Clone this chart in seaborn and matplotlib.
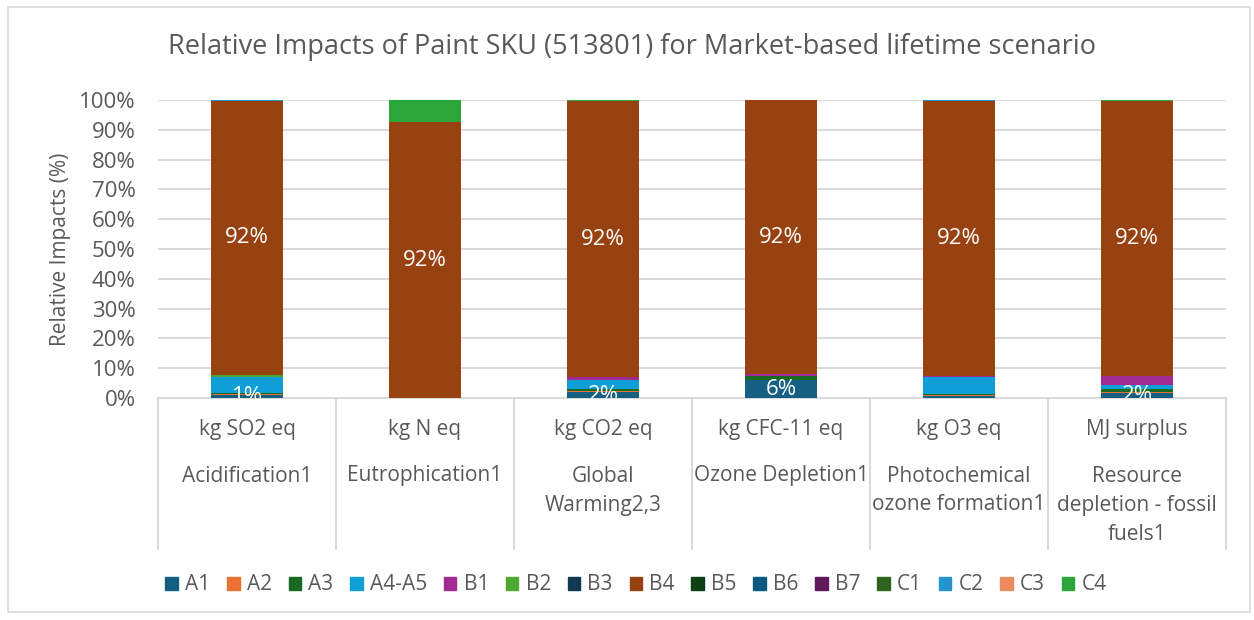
import matplotlib
matplotlib.use("Agg")
import matplotlib.pyplot as plt
import seaborn as sns
import numpy as np
import pandas as pd
from matplotlib.patches import Rectangle

# ---------------- data ----------------
categories = ["Acidification1", "Eutrophication1", "Global Warming2,3",
              "Ozone Depletion1", "Photochemical ozone formation1",
              "Resource depletion - fossil fuels1"]
units = ["kg SO2 eq", "kg N eq", "kg CO2 eq", "kg CFC-11 eq", "kg O3 eq", "MJ surplus"]
name_lines = [["Acidification1"], ["Eutrophication1"], ["Global", "Warming2,3"],
              ["Ozone Depletion1"], ["Photochemical", "ozone formation1"],
              ["Resource", "depletion - fossil", "fuels1"]]
stages = ["A1", "A2", "A3", "A4-A5", "B1", "B2", "B3", "B4", "B5", "B6", "B7",
          "C1", "C2", "C3", "C4"]

A1 = [1.0, 0.0, 2.0, 6.0, 0.8, 1.8]
A2 = [0.3, 0.0, 0.4, 0.0, 0.3, 0.2]
A3 = [0.3, 0.0, 0.5, 1.5, 0.3, 1.0]
A4_A5 = [5.6, 0.0, 3.0, 0.0, 5.6, 1.3]
B1 = [0.0, 0.0, 1.3, 0.5, 0.5, 3.2]
B2 = [0.6, 0.0, 0.0, 0.0, 0.0, 0.0]
B3 = [0.0, 0.0, 0.0, 0.0, 0.0, 0.0]
B4 = [92.0, 92.5, 92.3, 92.0, 92.0, 92.2]
B5 = [0.0, 0.0, 0.0, 0.0, 0.0, 0.0]
B6 = [0.0, 0.0, 0.0, 0.0, 0.0, 0.0]
B7 = [0.0, 0.0, 0.0, 0.0, 0.0, 0.0]
C1 = [0.0, 0.0, 0.0, 0.0, 0.0, 0.0]
C2 = [0.1, 0.0, 0.0, 0.0, 0.5, 0.0]
C3 = [0.0, 0.0, 0.0, 0.0, 0.0, 0.0]
C4 = [0.1, 7.5, 0.5, 0.0, 0.0, 0.3]

series = [A1, A2, A3, A4_A5, B1, B2, B3, B4, B5, B6, B7, C1, C2, C3, C4]
labelled = ["A1", "B4"]

colors = ["#156082", "#E97132", "#196B24", "#0F9ED5", "#A02B93", "#4EA72E",
          "#0E3A52", "#984111", "#0F3F14", "#0A5A7F", "#60195A", "#2E641C",
          "#2493CE", "#EE8B5C", "#2AA63A"]

# ---------------- plot ----------------
sns.set_theme(style="white")
plt.rcParams["font.family"] = ["Open Sans", "DejaVu Sans"]
TXT = "#595959"
GRID = "#D9D9D9"
FS = 15

fig = plt.figure(figsize=(12.54, 6.2), dpi=100)
ax = fig.add_axes([158 / 1254, 1 - 398 / 620, (1226 - 158) / 1254, 298 / 620])

bottom = np.zeros(len(categories))
handles = []
for name, vals, col in zip(stages, series, colors):
    df = pd.DataFrame({"cat": categories, "val": vals})
    sns.barplot(data=df, x="cat", y="val", order=categories, color=col,
                width=0.4, bottom=bottom.copy(), ax=ax, errorbar=None,
                linewidth=0, saturation=1, zorder=3)
    handles.append(Rectangle((0, 0), 1, 1, color=col))
    if name in labelled:
        for i, v in enumerate(vals):
            if v >= 1:
                ax.text(i, bottom[i] + v / 2, f"{v:.0f}%", ha="center", va="center",
                        color="white", fontsize=16, zorder=5, clip_on=True)
    bottom += np.array(vals)

ax.set_xlim(-0.5, len(categories) - 0.5)
ax.set_ylim(0, 100)
ax.set_yticks(np.arange(0, 101, 10))
ax.set_yticklabels([f"{t}%" for t in range(0, 101, 10)], color=TXT, fontsize=16)
ax.tick_params(axis="y", length=0, pad=16)
ax.set_xticks([])
ax.set_xlabel("")
ax.set_ylabel("Relative Impacts (%)", color=TXT, fontsize=FS, labelpad=6)
ax.grid(axis="y", color=GRID, linewidth=1.4, zorder=0)
ax.set_axisbelow(True)
for s in ["top", "right", "left"]:
    ax.spines[s].set_visible(False)
ax.spines["bottom"].set_color(GRID)
ax.spines["bottom"].set_linewidth(1.4)

# multi-level category axis
trans = ax.get_xaxis_transform()
sep_bottom = -(549 - 398) / 298
for k in range(len(categories) + 1):
    ax.plot([k - 0.5, k - 0.5], [0, sep_bottom], transform=trans, color=GRID,
            linewidth=1.4, clip_on=False)
for i, (u, lines) in enumerate(zip(units, name_lines)):
    ax.text(i, -(430 - 398) / 298, u, transform=trans, ha="center", va="center",
            color=TXT, fontsize=FS)
    for j, ln in enumerate(lines):
        ax.text(i, -(476 - 398 + 29 * j) / 298, ln, transform=trans, ha="center",
                va="center", color=TXT, fontsize=FS)

fig.text(0.5 * (165 + 1098) / 1254, 1 - 47 / 620,
         "Relative Impacts of Paint SKU (513801) for Market-based lifetime scenario",
         ha="center", va="center", color=TXT, fontsize=19.5)

fig.legend(handles, stages, loc="center", bbox_to_anchor=(0.5 * (158 + 1114) / 1254, 1 - 585 / 620),
           ncol=15, frameon=False, fontsize=FS, handlelength=0.6, handleheight=0.6,
           handletextpad=0.35, columnspacing=0.8, labelcolor=TXT)

fig.add_artist(Rectangle((8 / 1254, 8 / 620), (1250 - 8) / 1254, (613 - 8) / 620,
                         transform=fig.transFigure, fill=False, edgecolor=GRID,
                         linewidth=1.2))

fig.savefig("out.png", dpi=100)
